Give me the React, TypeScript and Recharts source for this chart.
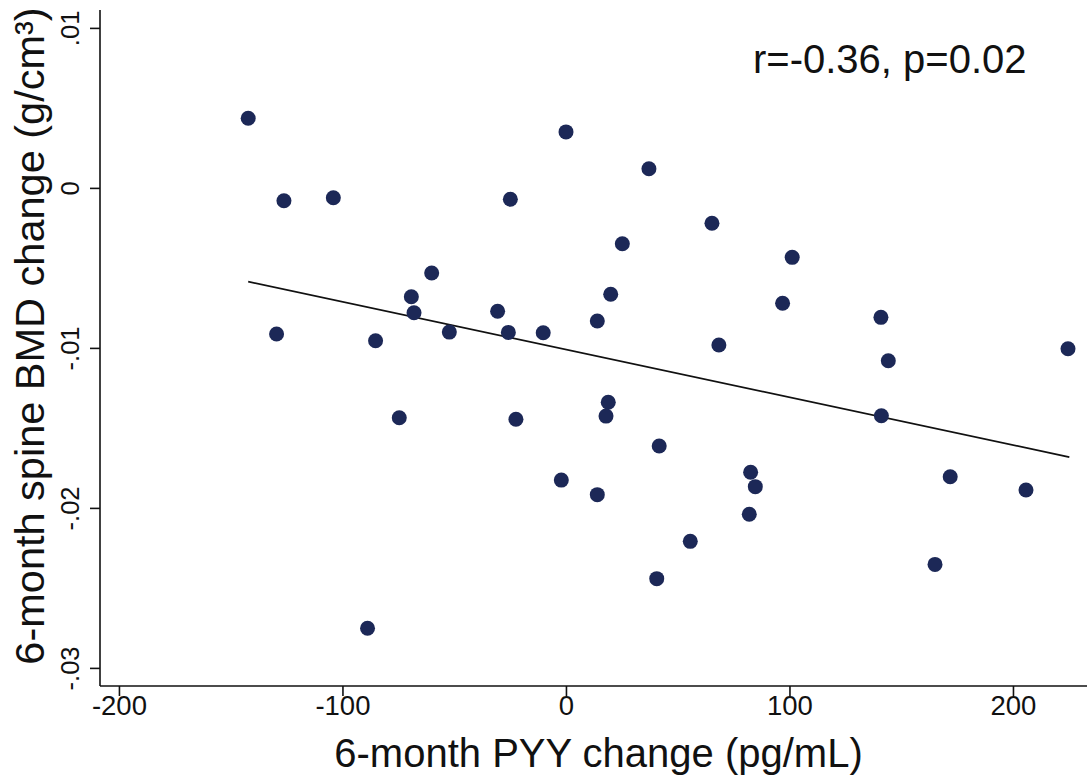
import React from 'react';
import { ScatterChart, Scatter, XAxis, YAxis, ReferenceLine, Label } from 'recharts';

// 6-month PYY change (pg/mL)
const pyyChange = [
  -142.4, -126.4, -104.3, -129.7, -85.4, -60.3, -69.4, -68.2, -52.4, -30.8,
  -26.0, -10.4, -0.2, -25.1, 36.9, 65.1, 25.0, 19.8, 13.8, 68.2,
  96.7, 101.0, 140.7, 144.0, 224.4, -74.8, -89.0, -22.6, 18.7, 17.7,
  41.5, -2.3, 13.8, 82.4, 84.5, 81.8, 55.4, 40.4, 140.9, 171.7,
  205.6, 164.9,
];
// 6-month spine BMD change (g/cm3)
const bmdChange = [
  0.00438, -0.00077, -0.00058, -0.0091, -0.00952, -0.00529, -0.00677, -0.00777, -0.00898, -0.00768,
  -0.009, -0.00902, 0.00353, -0.00068, 0.00123, -0.00218, -0.00346, -0.00662, -0.00829, -0.00979,
  -0.00718, -0.00431, -0.00806, -0.01077, -0.01002, -0.01433, -0.02749, -0.01443, -0.01337, -0.01423,
  -0.0161, -0.01823, -0.01914, -0.01774, -0.01864, -0.02037, -0.02206, -0.02439, -0.01421, -0.01802,
  -0.01885, -0.0235,
];
// fitted line end points
const fitX = [-142.4, 225.0];
const fitY = [-0.00583, -0.01679];

const xTicks = [-200, -100, 0, 100, 200];
const yTicks = [-0.03, -0.02, -0.01, 0, 0.01];
const xDomain = [-208.7, 232.9];
const yDomain = [-0.0311, 0.01115];

const annotation = 'r=-0.36, p=0.02';
const xTitle = '6-month PYY change (pg/mL)';
const yTitle = '6-month spine BMD change (g/cm³)';

const points = pyyChange.map((x, i) => ({ x, y: bmdChange[i] }));

const FONT = '"Liberation Sans", Arial, Helvetica, sans-serif';
const INK = '#111111';
const DOT = '#1c2857';

const fmtY = (v: number) => {
  if (Math.abs(v) < 1e-12) return '0';
  const s = Math.abs(v).toFixed(2).replace(/^0/, '');
  return (v < 0 ? '-' : '') + s;
};

const XTick = (props: any) => {
  const { x, y, payload } = props;
  return (
    <text x={x} y={y + 19} textAnchor="middle" fontFamily={FONT} fontSize={27.5} fill={INK}>
      {payload.value}
    </text>
  );
};

const YTick = (props: any) => {
  const { x, y, payload } = props;
  const bx = x - 11;
  return (
    <text
      x={bx}
      y={y}
      textAnchor="middle"
      transform={`rotate(-90, ${bx}, ${y})`}
      fontFamily={FONT}
      fontSize={25.5}
      fill={INK}
    >
      {fmtY(payload.value)}
    </text>
  );
};

const Dot = (props: any) => {
  const { cx, cy } = props;
  if (cx == null || cy == null) return <g />;
  return <circle cx={cx} cy={cy} r={7.5} fill={DOT} />;
};

const XTitle = (props: any) => {
  const vb = props.viewBox || { x: 100, y: 686, width: 987, height: 93 };
  return (
    <text x={vb.x + 498.5} y={vb.y + 81} textAnchor="middle" fontFamily={FONT} fontSize={40} fill={INK}>
      {xTitle}
    </text>
  );
};

const YTitle = (props: any) => {
  const vb = props.viewBox || { x: 0, y: 10, width: 100, height: 676 };
  const cx = vb.x + 44;
  const cy = vb.y + 326;
  return (
    <text
      x={cx}
      y={cy}
      textAnchor="middle"
      transform={`rotate(-90, ${cx}, ${cy})`}
      fontFamily={FONT}
      fontSize={41.5}
      fill={INK}
    >
      {yTitle}
    </text>
  );
};

export default function App() {
  return (
    <div style={{ position: 'absolute', left: 0, top: 0, width: 1088, height: 779, background: '#fff' }}>
      <ScatterChart width={1088} height={779} margin={{ top: 10, right: 1, left: 0, bottom: 0 }}>
        <XAxis
          type="number"
          dataKey="x"
          domain={xDomain}
          ticks={xTicks}
          allowDataOverflow
          height={93}
          tickSize={10}
          tickMargin={0}
          tick={<XTick />}
          axisLine={{ stroke: INK, strokeWidth: 1.6 }}
          tickLine={{ stroke: INK, strokeWidth: 1.6 }}
        >
          <Label content={<XTitle />} />
        </XAxis>
        <YAxis
          type="number"
          dataKey="y"
          domain={yDomain}
          ticks={yTicks}
          allowDataOverflow
          width={100}
          tickSize={10}
          tickMargin={0}
          tick={<YTick />}
          axisLine={{ stroke: INK, strokeWidth: 1.6 }}
          tickLine={{ stroke: INK, strokeWidth: 1.6 }}
        >
          <Label content={<YTitle />} />
        </YAxis>
        <ReferenceLine
          segment={[
            { x: fitX[0], y: fitY[0] },
            { x: fitX[1], y: fitY[1] },
          ]}
          stroke={INK}
          strokeWidth={1.8}
          ifOverflow="visible"
        />
        <Scatter data={points} shape={<Dot />} isAnimationActive={false} />
      </ScatterChart>
      <div
        style={{
          position: 'absolute',
          left: 753,
          top: 37,
          fontFamily: FONT,
          fontSize: 40,
          lineHeight: '44px',
          color: INK,
          whiteSpace: 'nowrap',
        }}
      >
        {annotation}
      </div>
    </div>
  );
}
